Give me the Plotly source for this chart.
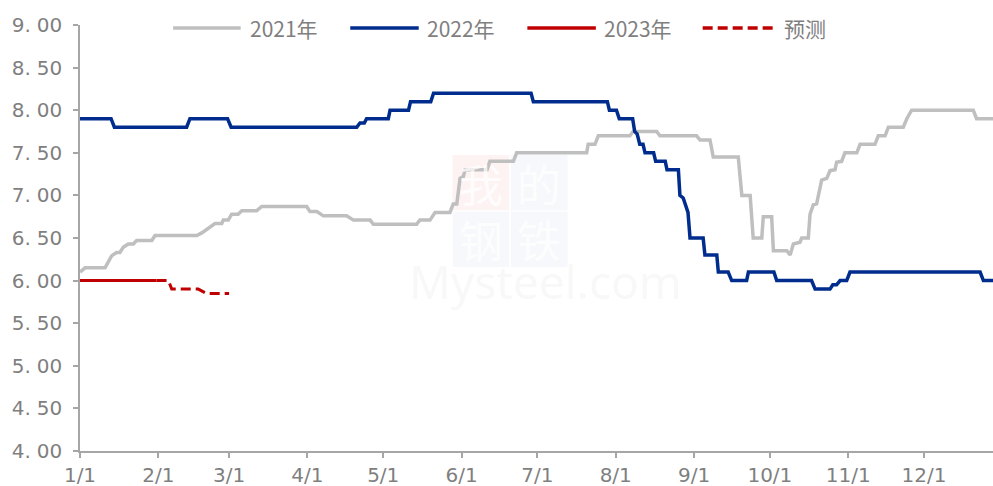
import plotly.graph_objects as go

# x values are day-of-year (0 = 1/1) at each step
days_2021 = [0, 2.0, 9.9, 11.2, 12.5, 14.5, 15.8, 17.1, 19.1, 21.1, 22.4, 28.4, 29.7, 46.2, 48.2,
             53.4, 56.1, 56.7, 58.7, 60.0, 62.6, 64.0, 69.9, 71.9, 89.7, 91.0, 93.7, 96.3, 105.5,
             108.2, 114.8, 116.1, 133.2, 134.5, 138.5, 140.5, 146.4, 147.7, 149.1, 150.4, 151.7,
             152.4, 161.1, 162.2, 171.5, 172.8, 200.5, 201.1, 203.8, 205.1, 217.6, 218.9, 228.2,
             229.5, 244.0, 245.4, 249.3, 250.6, 260.5, 261.9, 265.2, 266.4, 269.8, 270.4, 273.7,
             274.4, 279.7, 281.0, 282.3, 284.9, 285.6, 288.2, 288.9, 290.2, 291.5, 293.5, 295.5,
             296.8, 298.8, 299.4, 301.4, 302.7, 307.4, 308.7, 314.6, 315.9, 318.6, 319.9, 325.8,
             327.2, 329.1, 353.5, 354.8, 364]
vals_2021 = [6.10, 6.15, 6.15, 6.22, 6.29, 6.33, 6.33, 6.39, 6.43, 6.43, 6.47, 6.47, 6.53, 6.53, 6.56,
             6.67, 6.67, 6.71, 6.71, 6.78, 6.78, 6.82, 6.82, 6.87, 6.87, 6.81, 6.81, 6.76, 6.76,
             6.71, 6.71, 6.66, 6.66, 6.71, 6.71, 6.80, 6.80, 6.90, 6.90, 7.20, 7.22,
             7.30, 7.30, 7.40, 7.40, 7.50, 7.50, 7.60, 7.60, 7.70, 7.70, 7.75, 7.75,
             7.70, 7.70, 7.65, 7.65, 7.45, 7.45, 7.00, 7.00, 6.50, 6.50, 6.75, 6.75,
             6.35, 6.35, 6.30, 6.43, 6.45, 6.50, 6.50, 6.78, 6.89, 6.90, 7.18, 7.20,
             7.29, 7.30, 7.39, 7.40, 7.50, 7.50, 7.60, 7.60, 7.70, 7.70, 7.80, 7.80,
             7.90, 8.00, 8.00, 7.90, 7.90]

days_2022 = [0, 12.3, 13.6, 42.2, 43.5, 58.4, 59.8, 109.5, 110.8, 112.5, 113.4, 122.0, 122.7, 130.0,
             130.8, 138.8, 139.9, 178.5, 179.4, 208.7, 209.5, 212.3, 213.4, 218.7, 219.5, 220.5,
             221.5, 222.8, 223.6, 227.0, 227.8, 231.6, 232.3, 236.8, 237.4, 238.7, 240.6, 241.4,
             246.6, 247.3, 252.0, 252.6, 256.5, 257.9, 263.8, 264.5, 274.6, 275.7, 289.5, 290.9,
             296.8, 297.9, 299.4, 300.8, 303.4, 304.7, 356.2, 357.5, 364]
vals_2022 = [7.9, 7.9, 7.8, 7.8, 7.9, 7.9, 7.8, 7.8, 7.85, 7.85, 7.9, 7.9, 8.0, 8.0,
             8.1, 8.1, 8.2, 8.2, 8.1, 8.1, 8.0, 8.0, 7.9, 7.9, 7.75, 7.72,
             7.6, 7.6, 7.5, 7.5, 7.4, 7.4, 7.3, 7.3, 7.0, 6.97, 6.8, 6.5,
             6.5, 6.3, 6.3, 6.1, 6.1, 6.0, 6.0, 6.1, 6.1, 6.0, 6.0, 5.9,
             5.9, 5.95, 5.95, 6.0, 6.0, 6.1, 6.1, 6.0, 6.0]

days_2023 = [0, 30.3]
vals_2023 = [6.0, 6.0]

days_forecast = [30.3, 35.0, 36.3, 46.8, 50.0, 59.0]
vals_forecast = [6.0, 6.0, 5.9, 5.9, 5.85, 5.85]

tick_days = [0, 31, 59, 90, 120, 151, 181, 212, 243, 273, 304, 334]
tick_labels = ['1/1', '2/1', '3/1', '4/1', '5/1', '6/1', '7/1', '8/1', '9/1', '10/1', '11/1', '12/1']
y_ticks = [4.0, 4.5, 5.0, 5.5, 6.0, 6.5, 7.0, 7.5, 8.0, 8.5, 9.0]
y_labels = ['4.\u2009\u200a00', '4.\u2009\u200a50', '5.\u2009\u200a00', '5.\u2009\u200a50',
            '6.\u2009\u200a00', '6.\u2009\u200a50', '7.\u2009\u200a00', '7.\u2009\u200a50',
            '8.\u2009\u200a00', '8.\u2009\u200a50', '9.\u2009\u200a00']

GRAY = '#BFBFBF'
NAVY = '#002D8D'
RED = '#C00000'
TXT = '#7F7F7F'

fig = go.Figure()
fig.add_trace(go.Scatter(x=days_2021, y=vals_2021, mode='lines', name='2021年',
    line=dict(color=GRAY, width=3.5), showlegend=False))
fig.add_trace(go.Scatter(x=days_2022, y=vals_2022, mode='lines', name='2022年',
    line=dict(color=NAVY, width=3.5), showlegend=False))
fig.add_trace(go.Scatter(x=days_forecast, y=vals_forecast, mode='lines', name='预测',
    line=dict(color=RED, width=3, dash='10px,5px'), showlegend=False))
fig.add_trace(go.Scatter(x=days_2023, y=vals_2023, mode='lines', name='2023年',
    line=dict(color=RED, width=3), showlegend=False))

# watermark
fig.add_shape(type='rect', xref='paper', yref='paper', x0=0.408, x1=0.470, y0=0.565, y1=0.695,
    fillcolor='rgba(235,90,90,0.07)', line_width=0, layer='below')
for x0, y0 in [(0.472, 0.565), (0.408, 0.432), (0.472, 0.432)]:
    fig.add_shape(type='rect', xref='paper', yref='paper', x0=x0, x1=x0 + 0.062, y0=y0, y1=y0 + 0.13,
        fillcolor='rgba(90,110,190,0.05)', line_width=0, layer='below')
for txt, x, y in [('我', 0.439, 0.63), ('的', 0.503, 0.63), ('钢', 0.439, 0.497), ('铁', 0.503, 0.497)]:
    fig.add_annotation(text=txt, x=x, y=y, xref='paper', yref='paper', showarrow=False,
        font=dict(family='Noto Sans CJK SC', size=44, color='rgba(255,255,255,0.75)'))
fig.add_annotation(text='Mysteel.com', x=0.51, y=0.40, xref='paper', yref='paper', showarrow=False,
    font=dict(family='Noto Sans', size=46, color='rgba(190,190,190,0.10)'))

# legend drawn by hand so the line samples are long like the original
legend_items = [('2021年', GRAY, 'solid', 0.102, 0.176, 0.184),
                ('2022年', NAVY, 'solid', 0.296, 0.371, 0.378),
                ('2023年', RED, 'solid', 0.490, 0.565, 0.572),
                ('预测', RED, 'dash', 0.682, 0.760, 0.769)]
for label, color, dash, lx0, lx1, tx in legend_items:
    fig.add_shape(type='line', xref='paper', yref='paper', x0=lx0, x1=lx1, y0=0.993, y1=0.993,
        line=dict(color=color, width=3.5, dash='10px,5px' if dash == 'dash' else 'solid'))
    fig.add_annotation(text=label, x=tx, y=0.993, xref='paper', yref='paper', showarrow=False,
        xanchor='left', yanchor='middle',
        font=dict(family='Noto Sans CJK SC', size=21, color=TXT))

fig.update_layout(width=993, height=486, margin=dict(l=80, r=0, t=25, b=35),
    paper_bgcolor='white', plot_bgcolor='white', showlegend=False,
    font=dict(family='DejaVu Sans', size=20, color=TXT))
fig.update_xaxes(range=[0, 361.3], tickvals=tick_days, ticktext=tick_labels, showgrid=False,
    zeroline=False, showline=True, linecolor='#A6A6A6', linewidth=1.5, ticks='outside',
    ticklen=5, tickcolor='#A6A6A6', tickwidth=1.5, tickfont=dict(size=20, color=TXT),
    automargin=False)
fig.update_yaxes(range=[4, 9], tickvals=y_ticks, ticktext=y_labels, showgrid=False,
    zeroline=False, showline=True, linecolor='#A6A6A6', linewidth=1.5, ticks='outside',
    ticklen=5, tickcolor='#A6A6A6', tickwidth=1.5, tickfont=dict(size=20, color=TXT),
    ticklabelstandoff=7, automargin=False)

# drop the default page margin and scrollbars so the figure fills the window
fig.write_html("out.html", config={'displayModeBar': False},
    post_script="document.body.style.margin='0';document.body.style.overflow='hidden';")
